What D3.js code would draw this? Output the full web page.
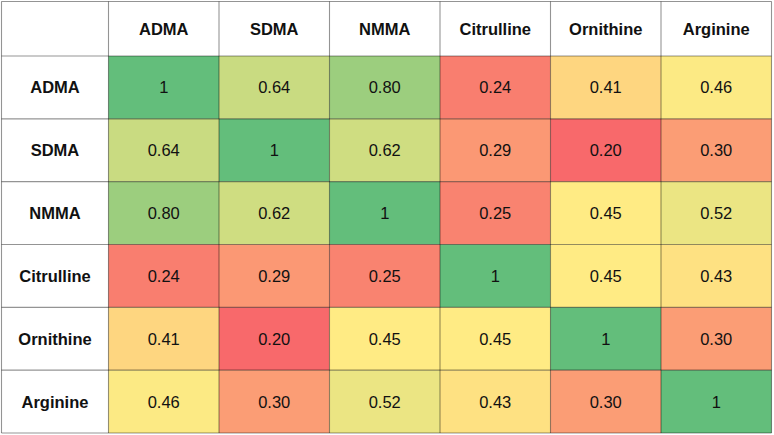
<!DOCTYPE html>
<html>
<head>
<meta charset="utf-8">
<script src="https://cdn.jsdelivr.net/npm/d3@7"></script>
<style>
  html, body { margin: 0; padding: 0; background: #fff; }
  svg { display: block; }
</style>
</head>
<body>
<script>
const categories = ["ADMA", "SDMA", "NMMA", "Citrulline", "Ornithine", "Arginine"];
const rowADMA       = [1,    0.64, 0.80, 0.24, 0.41, 0.46];
const rowSDMA       = [0.64, 1,    0.62, 0.29, 0.20, 0.30];
const rowNMMA       = [0.80, 0.62, 1,    0.25, 0.45, 0.52];
const rowCitrulline = [0.24, 0.29, 0.25, 1,    0.45, 0.43];
const rowOrnithine  = [0.41, 0.20, 0.45, 0.45, 1,    0.30];
const rowArginine   = [0.46, 0.30, 0.52, 0.43, 0.30, 1];
const matrix = [rowADMA, rowSDMA, rowNMMA, rowCitrulline, rowOrnithine, rowArginine];

(function () {
const W = 774, H = 435;
const x0 = 1.5, y0 = 1.5, x1 = 771.5, y1 = 433;
const headerW = 107, headerH = 54.5;

const svg = d3.select("body").append("svg").attr("width", W).attr("height", H);

const x = d3.scaleBand().domain(categories).range([x0 + headerW, x1]);
const y = d3.scaleBand().domain(categories).range([y0 + headerH, y1]);

const all = matrix.flat();
const vmin = d3.min(all), vmax = d3.max(all), vmid = d3.median(all);
const color = d3.scaleLinear()
  .domain([vmin, vmid, vmax])
  .range(["#f8696b", "#ffeb84", "#63be7b"])
  .interpolate(d3.interpolateRgb);

const cells = [];
matrix.forEach((row, i) => row.forEach((v, j) => cells.push({r: categories[i], c: categories[j], v})));

svg.append("rect").attr("x", x0).attr("y", y0).attr("width", x1 - x0).attr("height", y1 - y0).attr("fill", "#fff");

svg.append("g").selectAll("rect").data(cells).join("rect")
  .attr("x", d => x(d.c)).attr("y", d => y(d.r))
  .attr("width", x.bandwidth()).attr("height", y.bandwidth())
  .attr("fill", d => color(d.v));

const grid = svg.append("g").attr("stroke", "rgba(0,0,0,0.42)").attr("stroke-width", 1.1);
const xs = [x0, ...categories.map(c => x(c)), x1];
const ys = [y0, ...categories.map(c => y(c)), y1];
grid.selectAll("line.v").data(xs).join("line").attr("class", "v")
  .attr("x1", d => d).attr("x2", d => d).attr("y1", y0).attr("y2", y1);
grid.selectAll("line.h").data(ys).join("line").attr("class", "h")
  .attr("y1", d => d).attr("y2", d => d).attr("x1", x0).attr("x2", x1);

svg.append("g").selectAll("text").data(cells).join("text")
  .attr("x", d => x(d.c) + x.bandwidth() / 2)
  .attr("y", d => y(d.r) + y.bandwidth() / 2)
  .attr("text-anchor", "middle").attr("dominant-baseline", "central")
  .attr("font-family", "Liberation Sans, Arial, sans-serif").attr("font-size", 16.5)
  .attr("fill", "#111")
  .text(d => d.v === 1 ? "1" : d3.format(".2f")(d.v));

svg.append("g").selectAll("text").data(categories).join("text")
  .attr("x", d => x(d) + x.bandwidth() / 2)
  .attr("y", y0 + headerH / 2)
  .attr("text-anchor", "middle").attr("dominant-baseline", "central")
  .attr("font-family", "Liberation Sans, Arial, sans-serif").attr("font-size", 16.5)
  .attr("font-weight", "bold").attr("fill", "#111")
  .text(d => d);

svg.append("g").selectAll("text").data(categories).join("text")
  .attr("x", x0 + headerW / 2)
  .attr("y", d => y(d) + y.bandwidth() / 2)
  .attr("text-anchor", "middle").attr("dominant-baseline", "central")
  .attr("font-family", "Liberation Sans, Arial, sans-serif").attr("font-size", 16.5)
  .attr("font-weight", "bold").attr("fill", "#111")
  .text(d => d);
})();
</script>
</body>
</html>
